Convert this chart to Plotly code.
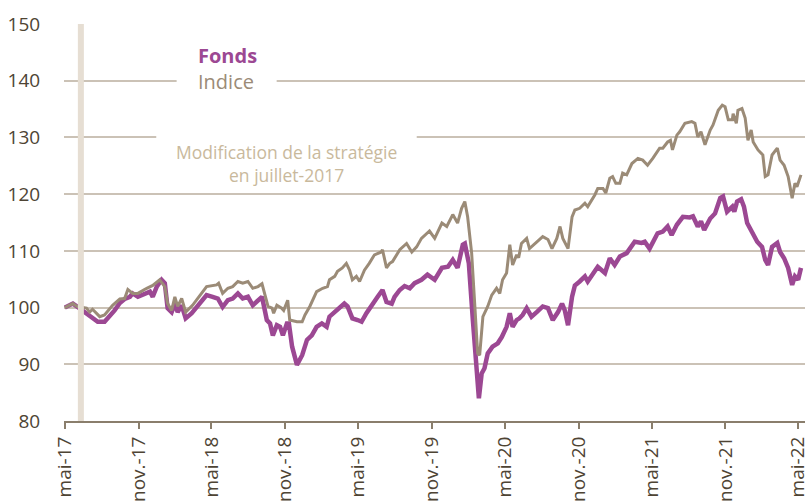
import plotly.graph_objects as go

# ---------------- data ----------------
fonds_dates = [
    "2017-05-01", "2017-05-21", "2017-05-31", "2017-06-20", "2017-07-02", "2017-07-14", "2017-07-22", "2017-08-08",
    "2017-08-21", "2017-09-02", "2017-09-15", "2017-09-27", "2017-10-10", "2017-10-17", "2017-10-30", "2017-11-16",
    "2017-11-29", "2017-12-06", "2017-12-16", "2017-12-28",
    "2018-01-05", "2018-01-12", "2018-01-22", "2018-01-30", "2018-02-06", "2018-02-16", "2018-02-26", "2018-03-13",
    "2018-04-02", "2018-04-19", "2018-05-04", "2018-05-17", "2018-05-29", "2018-06-11", "2018-06-23", "2018-07-06",
    "2018-07-18", "2018-07-31", "2018-08-12", "2018-08-25", "2018-09-04", "2018-09-16", "2018-09-24", "2018-10-01",
    "2018-10-11", "2018-10-19", "2018-10-26", "2018-11-05", "2018-11-10", "2018-11-18", "2018-11-30", "2018-12-13",
    "2018-12-25",
    "2019-01-06", "2019-01-18", "2019-01-31", "2019-02-12", "2019-02-19", "2019-03-04", "2019-03-16", "2019-03-28",
    "2019-04-05", "2019-04-17", "2019-04-30", "2019-05-10", "2019-05-22", "2019-06-06", "2019-06-19", "2019-07-01",
    "2019-07-11", "2019-07-24", "2019-07-31", "2019-08-13", "2019-08-25", "2019-09-07", "2019-09-19", "2019-10-06",
    "2019-10-21", "2019-11-08", "2019-11-26", "2019-12-11", "2019-12-23",
    "2020-01-04", "2020-01-17", "2020-01-22", "2020-02-01", "2020-02-11", "2020-02-21", "2020-02-26", "2020-03-04",
    "2020-03-11", "2020-03-19", "2020-03-31", "2020-04-13", "2020-04-23", "2020-05-05", "2020-05-13", "2020-05-20",
    "2020-05-30", "2020-06-06", "2020-06-14", "2020-06-24", "2020-07-06", "2020-07-19", "2020-08-03", "2020-08-16",
    "2020-08-28", "2020-09-10", "2020-09-20", "2020-09-27", "2020-10-05", "2020-10-15", "2020-10-22", "2020-11-03",
    "2020-11-16", "2020-11-23", "2020-12-11", "2020-12-18",
    "2021-01-05", "2021-01-17", "2021-01-29", "2021-02-11", "2021-02-28", "2021-03-20", "2021-04-06", "2021-04-14",
    "2021-04-26", "2021-05-16", "2021-05-29", "2021-06-10", "2021-06-20", "2021-07-03", "2021-07-18", "2021-08-04",
    "2021-08-12", "2021-08-24", "2021-09-01", "2021-09-09", "2021-09-24", "2021-10-06", "2021-10-19", "2021-10-26",
    "2021-11-05", "2021-11-18", "2021-11-23", "2021-11-30", "2021-12-10", "2021-12-17", "2021-12-25", "2021-12-30",
    "2022-01-06", "2022-01-19", "2022-01-31", "2022-02-08", "2022-02-15", "2022-02-25", "2022-03-10", "2022-03-17",
    "2022-03-27", "2022-04-06", "2022-04-16", "2022-04-23", "2022-05-01", "2022-05-08",
]
fonds_values = [
    100.0, 100.7, 100.2, 99.2, 98.6, 98.1, 97.5, 97.5,
    98.4, 99.5, 100.8, 101.5, 101.9, 102.5, 101.9, 102.5,
    102.8, 101.9, 103.7, 104.9,
    104.3, 99.9, 99.2, 100.7, 99.2, 100.4, 98.1, 99.0,
    100.7, 102.2, 101.9, 101.6, 100.1, 101.3, 101.6, 102.5,
    101.6, 101.9, 100.4, 101.3, 101.9, 97.8, 97.2, 95.1,
    96.9, 96.6, 95.1, 97.2, 97.2, 93.1, 89.9, 91.6,
    94.3,
    95.1, 96.6, 97.2, 96.6, 98.4, 99.2, 100.2, 100.7,
    100.2, 98.1, 97.8, 97.5, 99.0, 100.7, 101.9, 103.1,
    101.0, 100.7, 101.9, 103.1, 103.8, 103.4, 104.3, 104.9,
    105.8, 104.9, 107.0, 107.2, 108.4,
    107.0, 111.1, 111.3, 107.8, 97.8, 87.2, 84.0, 88.4,
    89.3, 91.9, 93.1, 93.7, 94.8, 96.6, 99.0, 96.6,
    97.8, 98.1, 98.7, 99.9, 98.4, 99.2, 100.2, 99.9,
    97.8, 99.2, 100.7, 99.5, 96.9, 101.9, 103.9, 104.6,
    105.5, 104.6, 106.4, 107.2,
    106.1, 108.7, 107.5, 109.0, 109.6, 111.6, 111.4, 111.6,
    110.4, 113.1, 113.4, 114.3, 112.8, 114.6, 116.0, 115.9,
    116.1, 114.3, 115.2, 113.7, 115.7, 116.6, 119.3, 119.6,
    116.9, 117.8, 116.9, 118.7, 119.1, 117.8, 114.9, 114.3,
    113.1, 111.6, 110.7, 108.4, 107.5, 110.7, 111.4, 109.8,
    108.7, 107.0, 104.0, 105.5, 104.9, 107.0,
]

indice_dates = [
    "2017-05-01", "2017-05-21", "2017-05-31", "2017-06-24", "2017-07-02", "2017-07-09", "2017-07-27", "2017-08-08",
    "2017-08-28", "2017-09-15", "2017-09-27", "2017-10-05", "2017-10-17", "2017-10-30", "2017-11-21", "2017-12-06",
    "2017-12-23",
    "2018-01-05", "2018-01-12", "2018-01-22", "2018-01-30", "2018-02-06", "2018-02-16", "2018-02-26", "2018-03-15",
    "2018-04-19", "2018-05-14", "2018-05-19", "2018-05-29", "2018-06-11", "2018-06-23", "2018-07-06", "2018-07-18",
    "2018-07-31", "2018-08-12", "2018-08-25", "2018-09-04", "2018-09-11", "2018-09-19", "2018-09-29", "2018-10-03",
    "2018-10-11", "2018-10-23", "2018-10-28", "2018-11-07", "2018-11-12", "2018-11-30", "2018-12-13", "2018-12-20",
    "2019-01-01", "2019-01-18", "2019-02-02", "2019-02-14", "2019-02-19", "2019-03-04", "2019-03-11", "2019-03-23",
    "2019-04-02", "2019-04-10", "2019-04-17", "2019-04-27", "2019-05-05", "2019-05-17", "2019-05-29", "2019-06-11",
    "2019-06-28", "2019-07-01", "2019-07-11", "2019-07-19", "2019-07-26", "2019-08-05", "2019-08-13", "2019-08-30",
    "2019-09-12", "2019-09-24", "2019-10-06", "2019-10-26", "2019-11-08", "2019-11-26", "2019-12-08", "2019-12-23",
    "2020-01-04", "2020-01-14", "2020-01-22", "2020-01-29", "2020-02-08", "2020-02-16", "2020-02-23", "2020-02-28",
    "2020-03-07", "2020-03-19", "2020-03-29", "2020-04-10", "2020-04-18", "2020-04-25", "2020-05-05", "2020-05-13",
    "2020-05-20", "2020-05-30", "2020-06-04", "2020-06-11", "2020-06-24", "2020-07-01", "2020-07-19", "2020-08-03",
    "2020-08-16", "2020-08-26", "2020-09-07", "2020-09-15", "2020-09-22", "2020-10-05", "2020-10-15", "2020-10-22",
    "2020-11-03", "2020-11-16", "2020-11-23", "2020-12-11", "2020-12-18", "2020-12-31",
    "2021-01-07", "2021-01-17", "2021-01-24", "2021-02-01", "2021-02-11", "2021-02-18", "2021-02-28", "2021-03-13",
    "2021-03-28", "2021-04-09", "2021-04-21", "2021-05-04", "2021-05-21", "2021-05-29", "2021-06-10", "2021-06-17",
    "2021-06-22", "2021-07-03", "2021-07-10", "2021-07-23", "2021-08-09", "2021-08-17", "2021-08-24", "2021-09-01",
    "2021-09-11", "2021-09-24", "2021-10-01", "2021-10-14", "2021-10-24", "2021-10-31", "2021-11-08", "2021-11-18",
    "2021-11-20", "2021-11-28", "2021-12-02", "2021-12-12", "2021-12-20", "2021-12-27",
    "2022-01-04", "2022-01-09", "2022-01-21", "2022-02-02", "2022-02-08", "2022-02-15", "2022-02-25", "2022-03-10",
    "2022-03-17", "2022-03-27", "2022-04-06", "2022-04-16", "2022-04-23", "2022-04-28", "2022-05-08",
]
indice_values = [
    100.0, 100.7, 100.2, 99.9, 99.2, 99.7, 98.4, 98.7,
    100.4, 101.5, 101.6, 103.2, 102.5, 102.5, 103.4, 103.9,
    104.9,
    103.7, 100.7, 99.5, 101.9, 100.2, 101.6, 99.2, 100.4,
    103.7, 104.0, 104.3, 102.5, 103.4, 103.7, 104.6, 104.3,
    104.6, 103.4, 103.7, 104.2, 102.5, 100.2, 99.9, 99.0,
    100.4, 99.9, 99.5, 101.3, 97.8, 97.5, 97.5, 98.7,
    100.2, 102.8, 103.4, 103.7, 104.9, 105.5, 106.4, 107.0,
    107.8, 106.6, 104.9, 105.5, 104.6, 106.6, 107.8, 109.3,
    109.8, 110.2, 107.0, 107.8, 108.1, 109.3, 110.2, 111.3,
    109.8, 110.7, 112.2, 113.5, 112.2, 114.9, 114.3, 116.4,
    114.9, 117.5, 118.7, 116.0, 109.6, 100.2, 91.9, 91.6,
    98.4, 100.2, 102.2, 103.4, 102.5, 104.9, 106.1, 111.1,
    107.5, 109.3, 108.8, 111.3, 112.2, 110.4, 111.6, 112.5,
    112.0, 110.4, 112.2, 114.3, 112.2, 110.4, 116.0, 117.2,
    117.5, 118.4, 117.8, 119.9, 121.0, 121.0,
    120.2, 122.8, 123.1, 121.9, 121.9, 123.7, 123.4, 125.4,
    126.3, 126.0, 125.1, 126.3, 128.1, 128.1, 129.2, 129.5,
    127.8, 130.4, 131.0, 132.5, 132.8, 132.5, 130.1, 131.0,
    128.7, 131.3, 132.2, 134.8, 135.7, 135.4, 133.1, 133.1,
    134.2, 132.5, 134.8, 135.1, 133.4, 129.5,
    131.3, 129.2, 127.8, 126.9, 123.1, 123.4, 126.9, 128.1,
    126.0, 125.1, 123.1, 119.3, 121.9, 121.3, 123.4,
]

tick_dates = ["2017-05-01", "2017-11-01", "2018-05-01", "2018-11-01", "2019-05-01", "2019-11-01",
              "2020-05-01", "2020-11-01", "2021-05-01", "2021-11-01", "2022-05-01"]
tick_labels = ["mai-17", "nov.-17", "mai-18", "nov.-18", "mai-19", "nov.-19",
               "mai-20", "nov.-20", "mai-21", "nov.-21", "mai-22"]
y_ticks = [80, 90, 100, 110, 120, 130, 140, 150]

series_names = ["Fonds", "Indice"]
strategy_date = "2017-06-10"
strategy_text = "Modification de la stratégie<br>en juillet-2017"

# ---------------- styles ----------------
FONDS_COLOR = "#9c4893"
INDICE_COLOR = "#9b8b77"
GRID_COLOR = "#cbc2b6"
AXIS_COLOR = "#8a7e6c"
TEXT_COLOR = "#4e4434"
NOTE_COLOR = "#c9b99c"
BAR_COLOR = "#e6ded3"
FONT = "Open Sans"

fig = go.Figure()
fig.add_trace(go.Scatter(x=fonds_dates, y=fonds_values, mode="lines", name=series_names[0],
                         line=dict(color=FONDS_COLOR, width=4.5), showlegend=False))
fig.add_trace(go.Scatter(x=indice_dates, y=indice_values, mode="lines", name=series_names[1],
                         line=dict(color=INDICE_COLOR, width=3), showlegend=False))

fig.update_layout(
    width=805, height=503,
    margin=dict(l=64, r=0, t=24, b=82, autoexpand=False),
    plot_bgcolor="white", paper_bgcolor="white",
    font=dict(family=FONT, color=TEXT_COLOR, size=19),
    xaxis=dict(
        type="date", range=["2017-04-29", "2022-05-18"],
        tickmode="array", tickvals=tick_dates, ticktext=tick_labels, tickangle=-90,
        ticks="outside", ticklen=6, tickwidth=2, tickcolor=AXIS_COLOR,
        showline=True, linecolor=AXIS_COLOR, linewidth=2, showgrid=False, zeroline=False,
        ticklabeloverflow="allow",
        tickfont=dict(family=FONT, size=19, color=TEXT_COLOR), automargin=False,
    ),
    yaxis=dict(
        range=[80, 150], tickmode="array", tickvals=y_ticks,
        showgrid=True, gridcolor=GRID_COLOR, gridwidth=2, zeroline=False, showline=False,
        ticks="outside", ticklen=19, tickcolor="rgba(0,0,0,0)",
        tickfont=dict(family=FONT, size=19, color=TEXT_COLOR), automargin=False,
    ),
)

# white boxes behind legend and note (hide gridlines)
fig.add_shape(type="rect", xref="paper", yref="y", x0=0.152, x1=0.287, y0=136.6, y1=146.5,
              fillcolor="white", line=dict(width=0), layer="above")
fig.add_shape(type="rect", xref="paper", yref="y", x0=0.1245, x1=0.476, y0=120.25, y1=131.8,
              fillcolor="white", line=dict(width=0), layer="above")
# strategy-change marker
fig.add_shape(type="line", xref="x", yref="y", x0=strategy_date, x1=strategy_date, y0=80, y1=150,
              line=dict(color=BAR_COLOR, width=6), layer="above")

fig.add_annotation(xref="paper", yref="y", x=0.178, y=144.5, xanchor="left", yanchor="middle",
                   text="<b>" + series_names[0] + "</b>", showarrow=False,
                   font=dict(family=FONT, size=20, color=FONDS_COLOR))
fig.add_annotation(xref="paper", yref="y", x=0.178, y=139.8, xanchor="left", yanchor="middle",
                   text=series_names[1], showarrow=False,
                   font=dict(family=FONT, size=20, color=INDICE_COLOR))
fig.add_annotation(xref="paper", yref="y", x=0.2997, y=125.4, xanchor="center", yanchor="middle",
                   text=strategy_text, showarrow=False, align="center",
                   font=dict(family=FONT, size=17.5, color=NOTE_COLOR))

# remove the default page margin so the 805x503 figure fills the window exactly
fig.write_html("out.html", config={"displayModeBar": False},
               post_script="document.body.style.margin='0';document.body.style.overflow='hidden';")
